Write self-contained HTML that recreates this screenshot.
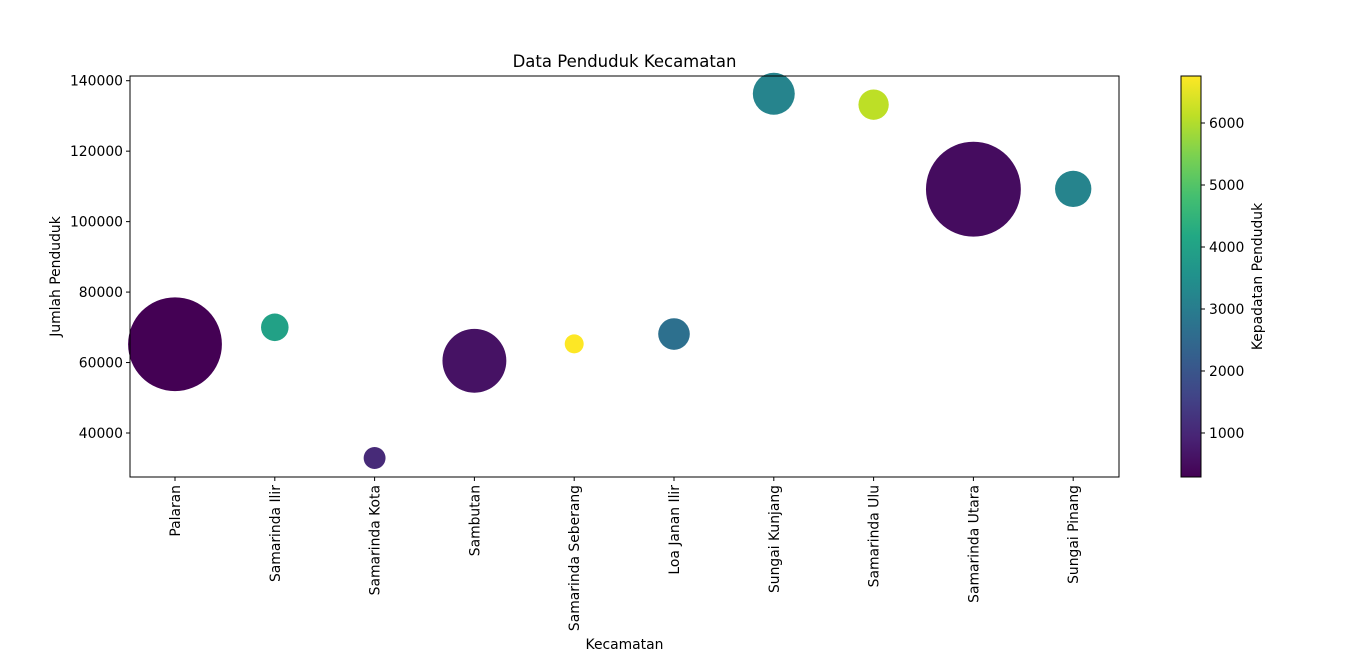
<!DOCTYPE html>
<html><head><meta charset="utf-8"><style>
body{margin:0;background:#fff;font-family:"DejaVu Sans","Liberation Sans",sans-serif}
</style></head><body>
<svg id="chart" width="1366" height="663" xmlns="http://www.w3.org/2000/svg" font-family="DejaVu Sans, Liberation Sans, sans-serif">
<defs><linearGradient id="vir" x1="0" y1="1" x2="0" y2="0">
<stop offset="0" stop-color="#440154"/><stop offset="0.1" stop-color="#482475"/><stop offset="0.2" stop-color="#414487"/><stop offset="0.3" stop-color="#355f8d"/><stop offset="0.4" stop-color="#2a788e"/><stop offset="0.5" stop-color="#21918c"/><stop offset="0.6" stop-color="#22a884"/><stop offset="0.7" stop-color="#44bf70"/><stop offset="0.8" stop-color="#7ad151"/><stop offset="0.9" stop-color="#bddf26"/><stop offset="1" stop-color="#fde725"/></linearGradient></defs>
<text x="624.5" y="67" text-anchor="middle" font-size="16.5">Data Penduduk Kecamatan</text>
<g id="plot"></g>
<rect x="130" y="76" width="989" height="401" fill="none" stroke="#000" stroke-width="1"/>
<g id="yaxis"></g><g id="xaxis"></g>
<text transform="translate(60,276.5) rotate(-90)" text-anchor="middle" font-size="13.9">Jumlah Penduduk</text>
<text x="624.5" y="649" text-anchor="middle" font-size="13.9">Kecamatan</text>
<rect x="1181" y="76" width="20" height="401" fill="url(#vir)" stroke="#000" stroke-width="1"/>
<g id="cbaxis"></g>
<text transform="translate(1262,276.5) rotate(-90)" text-anchor="middle" font-size="13.9">Kepadatan Penduduk</text>
</svg>
<script>
const categories=["Palaran","Samarinda Ilir","Samarinda Kota","Sambutan","Samarinda Seberang","Loa Janan Ilir","Sungai Kunjang","Samarinda Ulu","Samarinda Utara","Sungai Pinang"];
const population=[65200,70000,32900,60500,65300,68100,136300,133200,109200,109300];
const density=[290,3980,1060,600,6758,2680,3200,6110,500,3200];
const bubbleArea=[2200,190,120,1020,90,250,440,230,2250,330];
const yTicks=[40000,60000,80000,100000,120000,140000];
const cbTicks=[1000,2000,3000,4000,5000,6000];
const NS="http://www.w3.org/2000/svg";
function mk(t,a,p){const e=document.createElementNS(NS,t);for(const k in a)e.setAttribute(k,a[k]);p.appendChild(e);return e;}
const xS=i=>175+i*99.8;
const yS=v=>433-(v-40000)*0.003523;
const dMin=290,dMax=6758;
const cbY=v=>477-(v-dMin)/(dMax-dMin)*401;
const stops=[[68,1,84],[72,36,117],[65,68,135],[53,95,141],[42,120,142],[33,145,140],[34,168,132],[68,191,112],[122,209,81],[189,223,38],[253,231,37]];
function vir(t){t=Math.max(0,Math.min(1,t));const f=t*10,i=Math.min(9,Math.floor(f)),u=f-i;const a=stops[i],b=stops[i+1];return `rgb(${a.map((c,k)=>Math.round(c+(b[k]-c)*u)).join(',')})`;}
const plot=document.getElementById('plot');
categories.forEach((c,i)=>{
const el=mk('circle',{cx:xS(i),cy:yS(population[i]),r:Math.sqrt(bubbleArea[i]),fill:vir((density[i]-dMin)/(dMax-dMin))},plot);


});
const ya=document.getElementById('yaxis');
yTicks.forEach(v=>{const y=yS(v);
const l=mk('line',{x1:126,x2:130,y1:y,y2:y,stroke:'#000'},ya);


const t=mk('text',{x:123,y:y+4.8,'text-anchor':'end','font-size':13.9},ya);t.textContent=v;

});
const xa=document.getElementById('xaxis');
categories.forEach((c,i)=>{const x=xS(i);
const l=mk('line',{x1:x,x2:x,y1:477,y2:481,stroke:'#000'},xa);


const t=mk('text',{transform:`translate(${x+5},485) rotate(-90)`,'text-anchor':'end','font-size':13.9},xa);t.textContent=c;

});
const cb=document.getElementById('cbaxis');
cbTicks.forEach(v=>{const y=cbY(v);
const l=mk('line',{x1:1201,x2:1205,y1:y,y2:y,stroke:'#000'},cb);


const t=mk('text',{x:1209,y:y+4.8,'font-size':13.9},cb);t.textContent=v;

});
</script>
</body></html>
